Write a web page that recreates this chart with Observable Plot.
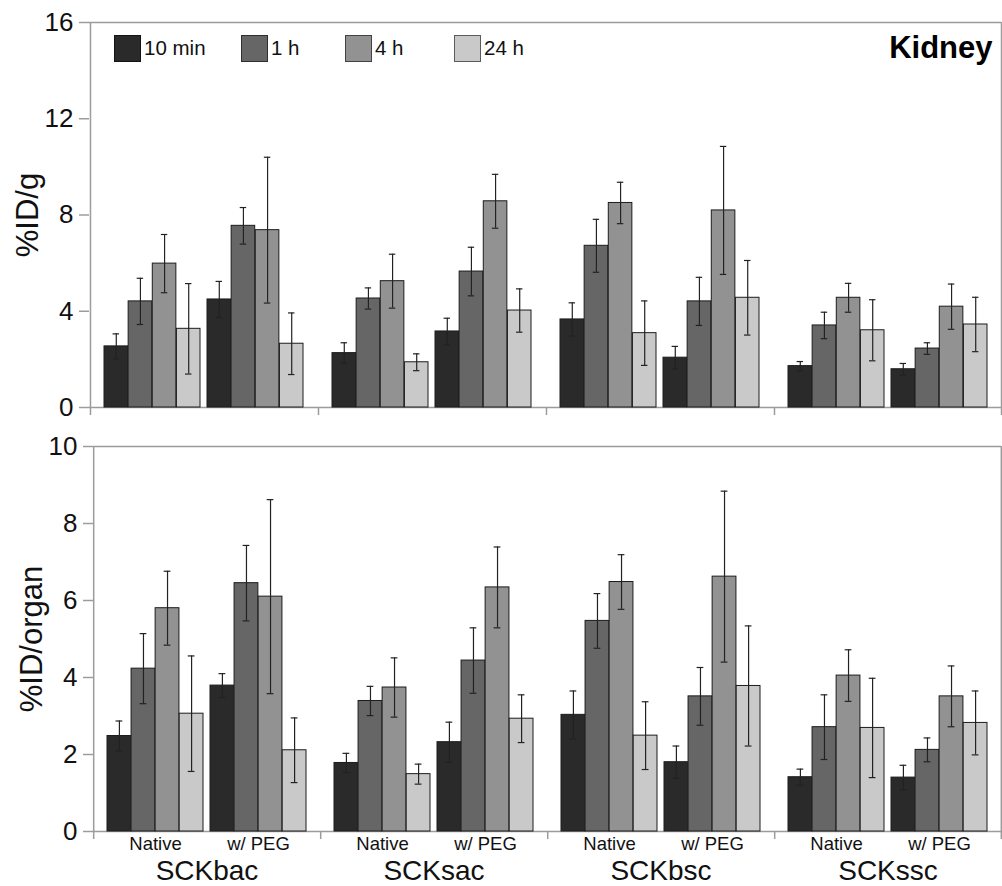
<!DOCTYPE html>
<html>
<head>
<meta charset="utf-8">
<script src="https://cdn.jsdelivr.net/npm/d3@7"></script>
<script src="https://cdn.jsdelivr.net/npm/@observablehq/plot@0.6"></script>
<style>
  body { margin: 0; background: #fff; font-family: "Liberation Sans", Arial, sans-serif; }
  #chart { position: relative; width: 1002px; height: 886px; background: #fff; overflow: hidden; }
  #chart svg { display: block; }
  .panel { position: absolute; left: 0; }
  .lg-item { position: absolute; top: 34px; height: 28px; display: flex; align-items: center; font-size: 20.5px; color: #111; }
  .lg-sw { width: 27px; height: 27px; box-sizing: border-box; border: 1px solid rgba(0,0,0,0.55); margin-right: 3px; }
</style>
</head>
<body>
<div id="chart"></div>
<script>
// ---- data ----
const constructs = ["SCKbac", "SCKsac", "SCKbsc", "SCKssc"];
const conditions = ["Native", "w/ PEG"];
const times = ["10 min", "1 h", "4 h", "24 h"];
const timeColors = ["#2a2a2a", "#666666", "#929292", "#c9c9c9"];

// rows: construct x condition (SCKbac Native, SCKbac w/ PEG, SCKsac Native, ...); columns: times
const perGramMean = [
  [2.54, 4.41, 5.98, 3.27],
  [4.49, 7.55, 7.37, 2.65],
  [2.26, 4.53, 5.25, 1.88],
  [3.16, 5.65, 8.57, 4.03],
  [3.66, 6.72, 8.50, 3.09],
  [2.07, 4.41, 8.19, 4.56],
  [1.72, 3.41, 4.56, 3.21],
  [1.59, 2.45, 4.19, 3.45]
];
const perGramErr = [
  [0.52, 0.96, 1.21, 1.88],
  [0.75, 0.76, 3.03, 1.28],
  [0.43, 0.44, 1.12, 0.35],
  [0.55, 1.01, 1.12, 0.90],
  [0.69, 1.10, 0.86, 1.34],
  [0.47, 1.00, 2.66, 1.55],
  [0.19, 0.55, 0.60, 1.27],
  [0.24, 0.24, 0.94, 1.13]
];
const perOrganMean = [
  [2.48, 4.23, 5.80, 3.06],
  [3.79, 6.45, 6.10, 2.11],
  [1.78, 3.39, 3.74, 1.49],
  [2.32, 4.44, 6.34, 2.93],
  [3.03, 5.47, 6.48, 2.49],
  [1.80, 3.51, 6.62, 3.78],
  [1.41, 2.71, 4.05, 2.69],
  [1.40, 2.12, 3.51, 2.82]
];
const perOrganErr = [
  [0.39, 0.91, 0.96, 1.50],
  [0.31, 0.98, 2.52, 0.84],
  [0.25, 0.38, 0.77, 0.26],
  [0.52, 0.85, 1.05, 0.62],
  [0.62, 0.71, 0.71, 0.88],
  [0.42, 0.75, 2.22, 1.56],
  [0.21, 0.84, 0.67, 1.29],
  [0.32, 0.31, 0.79, 0.83]
];
const perGramTicks = [0, 4, 8, 12, 16];
const perOrganTicks = [0, 2, 4, 6, 8, 10];
const organ = "Kidney";

function buildRows(mean, err) {
  const out = [];
  constructs.forEach((c, ci) => conditions.forEach((k, ki) => times.forEach((t, ti) => {
    const r = ci * conditions.length + ki;
    out.push({construct: c, condition: k, time: t, ti, mean: mean[r][ti], err: err[r][ti]});
  })));
  return out;
}

function panel(o) {
  const W = 1002, mL = o.marginLeft, mR = 1;
  const facetW = (W - mL - mR) / constructs.length;
  const pIn = 0.0712, pOut = 0.132;
  const step = facetW / (conditions.length - pIn + 2 * pOut);
  const bw = step * (1 - pIn);
  const outer = step * pOut;
  const bar = bw / times.length;
  const cap = 7;
  const frameH = o.height - o.marginTop - o.marginBottom;
  const rows = buildRows(o.mean, o.err);
  const axisColor = "#9c9c9c";
  const marks = [];

  marks.push(Plot.ruleY([o.ticks[o.ticks.length - 1]], {stroke: axisColor, strokeWidth: 1.5}));
  marks.push(Plot.ruleY([0], {stroke: axisColor, strokeWidth: 1.5}));

  times.forEach((t, i) => {
    const d = rows.filter(r => r.time === t);
    const inL = i * bar, inR = (times.length - 1 - i) * bar;
    marks.push(Plot.barY(d, {
      fx: "construct", x: "condition", y1: 0, y2: "mean",
      fill: timeColors[i], stroke: "#1c1c1c", strokeWidth: 1,
      insetLeft: inL, insetRight: inR
    }));
    marks.push(Plot.ruleX(d, {
      fx: "construct", x: "condition", y1: r => r.mean - r.err, y2: r => r.mean + r.err,
      dx: (i - (times.length - 1) / 2) * bar, stroke: "#222", strokeWidth: 1.2
    }));
    const capOpts = {fx: "construct", x: "condition", stroke: "#222", strokeWidth: 1.2,
      insetLeft: inL + (bar - cap) / 2, insetRight: inR + (bar - cap) / 2};
    marks.push(Plot.tickY(d, {...capOpts, y: r => r.mean + r.err}));
    marks.push(Plot.tickY(d, {...capOpts, y: r => r.mean - r.err}));
  });

  // frame sides and group separator ticks
  const leftEdges = constructs.map(c => ({construct: c, condition: conditions[0]}));
  const rightEdge = [{construct: constructs[constructs.length - 1], condition: conditions[conditions.length - 1]}];
  marks.push(Plot.ruleX(leftEdges.slice(0, 1), {fx: "construct", x: "condition", dx: -(bw / 2 + outer),
    insetBottom: -8, stroke: axisColor, strokeWidth: 1.5}));
  marks.push(Plot.ruleX(leftEdges.slice(1), {fx: "construct", x: "condition", dx: -(bw / 2 + outer),
    insetTop: frameH, insetBottom: -8, stroke: axisColor, strokeWidth: 1.5}));
  marks.push(Plot.ruleX(rightEdge, {fx: "construct", x: "condition", dx: (bw / 2 + outer),
    insetBottom: -8, stroke: axisColor, strokeWidth: 1.5}));

  marks.push(Plot.axisY({ticks: o.ticks, tickSize: 10, tickPadding: 6, fontSize: 26,
    stroke: axisColor, strokeWidth: 1.5, fill: "#111", label: null}));

  marks.push(Plot.text([o.label], {fx: () => constructs[0], text: d => d, frameAnchor: "left",
    rotate: -90, textAnchor: "middle", lineAnchor: "middle", dx: -61, fontSize: 31, fill: "#111"}));

  if (o.showX) {
    marks.push(Plot.axisX({tickSize: 0, tickPadding: 5, fontSize: 18.5, fill: "#111", label: null}));
    marks.push(Plot.text(constructs, {fx: d => d, text: d => d, frameAnchor: "bottom",
      dy: 40, lineAnchor: "middle", fontSize: 28, fill: "#111"}));
  }
  if (o.title) {
    marks.push(Plot.text([o.title], {fx: () => constructs[constructs.length - 1], text: d => d,
      frameAnchor: "top-right", dx: -9, dy: 26, lineAnchor: "middle", fontSize: 31,
      fontWeight: "bold", fill: "#000"}));
  }

  return Plot.plot({
    width: W, height: o.height,
    marginLeft: mL, marginRight: mR, marginTop: o.marginTop, marginBottom: o.marginBottom,
    style: {fontFamily: "Liberation Sans, Arial, sans-serif", background: "transparent", color: "#111", overflow: "visible"},
    fx: {domain: constructs, padding: 0, axis: null, label: null},
    x: {domain: conditions, paddingInner: pIn, paddingOuter: pOut, align: 0.5, axis: null, label: null},
    y: {domain: [0, o.ticks[o.ticks.length - 1]], label: null},
    marks
  });
}

const chartEl = document.getElementById("chart");

const topChart = panel({mean: perGramMean, err: perGramErr, ticks: perGramTicks, label: "%ID/g",
  height: 420, marginTop: 22, marginBottom: 13, marginLeft: 89, showX: false, title: organ});
topChart.classList.add("panel"); topChart.style.top = "0px";
chartEl.appendChild(topChart);

const bottomChart = panel({mean: perOrganMean, err: perOrganErr, ticks: perOrganTicks, label: "%ID/organ",
  height: 466, marginTop: 26, marginBottom: 55, marginLeft: 92, showX: true});
bottomChart.classList.add("panel"); bottomChart.style.top = "420px";
chartEl.appendChild(bottomChart);

// legend inside the top panel
const legendLeft = [114, 241, 345, 454];
times.forEach((t, i) => {
  const item = document.createElement("div");
  item.className = "lg-item";
  item.style.left = legendLeft[i] + "px";
  const sw = document.createElement("div");
  sw.className = "lg-sw";
  sw.style.background = timeColors[i];
  const label = document.createElement("span");
  label.textContent = t;
  item.appendChild(sw);
  item.appendChild(label);
  chartEl.appendChild(item);
});
</script>
</body>
</html>
